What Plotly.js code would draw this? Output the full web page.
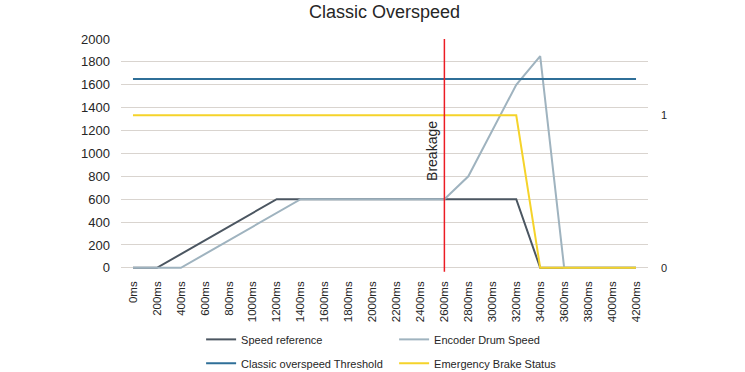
<!DOCTYPE html>
<html>
<head>
<meta charset="utf-8">
<script src="https://cdn.plot.ly/plotly-3.0.1.min.js"></script>
<style>html,body{margin:0;padding:0;background:#fff;}#chart{width:745px;height:372px;}</style>
</head>
<body>
<div id="chart"></div>
<script>
// Categories (time)
var timeLabels = ["0ms","200ms","400ms","600ms","800ms","1000ms","1200ms","1400ms","1600ms","1800ms","2000ms","2200ms","2400ms","2600ms","2800ms","3000ms","3200ms","3400ms","3600ms","3800ms","4000ms","4200ms"];

// Series values
var speedReference   = [0,0,120,240,360,480,600,600,600,600,600,600,600,600,600,600,600,0,0,0,0,0];
var encoderDrumSpeed = [0,0,0,120,240,360,480,600,600,600,600,600,600,600,800,1200,1600,1850,0,0,0,0];
var overspeedThreshold = [1650,1650,1650,1650,1650,1650,1650,1650,1650,1650,1650,1650,1650,1650,1650,1650,1650,1650,1650,1650,1650,1650];
var emergencyBrakeStatus = [1,1,1,1,1,1,1,1,1,1,1,1,1,1,1,1,1,0,0,0,0,0];

var breakageTime = "2600ms";
var breakageLabel = "Breakage";

var txt = '#262626';
var gridCol = '#d9d4cf';
var fontFam = 'Liberation Sans, Arial, sans-serif';

var traces = [
  {x: timeLabels, y: speedReference, name: 'Speed reference', type: 'scatter', mode: 'lines',
   line: {color: '#4b5661', width: 2}, legend: 'legend'},
  {x: timeLabels, y: encoderDrumSpeed, name: 'Encoder Drum Speed', type: 'scatter', mode: 'lines',
   line: {color: '#9fb3bf', width: 2}, legend: 'legend'},
  {x: timeLabels, y: overspeedThreshold, name: 'Classic overspeed Threshold', type: 'scatter', mode: 'lines',
   line: {color: '#2f6f98', width: 2}, legend: 'legend2'},
  {x: timeLabels, y: emergencyBrakeStatus, name: 'Emergency Brake Status', type: 'scatter', mode: 'lines',
   yaxis: 'y2', line: {color: '#f5d32a', width: 2}, legend: 'legend2'}
];

var legendCommon = {
  orientation: 'h', xref: 'paper', yref: 'paper', xanchor: 'left', yanchor: 'middle',
  entrywidth: 148, entrywidthmode: 'pixels', bgcolor: 'rgba(0,0,0,0)',
  font: {family: fontFam, size: 11, color: txt}, itemclick: false
};

var layout = {
  width: 745, height: 372,
  margin: {l: 121, r: 97, t: 39, b: 103, autoexpand: false},
  paper_bgcolor: '#fff', plot_bgcolor: '#fff',
  font: {family: fontFam, color: txt},
  title: {text: 'Classic Overspeed', font: {family: fontFam, size: 18, color: txt},
          x: 0.5, xref: 'paper', y: 0.968, yref: 'container', yanchor: 'middle'},
  xaxis: {
    type: 'category', categoryorder: 'array', categoryarray: timeLabels,
    range: [-0.5, timeLabels.length - 0.5], automargin: false,
    tickangle: -90, ticks: '', showgrid: false, zeroline: false,
    showline: false, tickfont: {family: fontFam, size: 11.5, color: txt},
    ticklabelstandoff: 9, fixedrange: true
  },
  yaxis: {
    range: [-10, 2000], dtick: 200, tick0: 0, ticks: '', automargin: false,
    showgrid: true, gridcolor: gridCol, gridwidth: 1, zeroline: false,
    showline: false, tickfont: {family: fontFam, size: 13, color: txt}, ticklabelstandoff: 10, fixedrange: true
  },
  yaxis2: {
    overlaying: 'y', side: 'right', range: [-0.0075, 1.5], tickvals: [0, 1], ticktext: ['0', '1'], automargin: false,
    showgrid: false, zeroline: false, showline: false, ticks: '',
    tickfont: {family: fontFam, size: 11, color: txt}, ticklabelstandoff: 12, fixedrange: true
  },
  legend: Object.assign({x: 0.152, y: -0.306}, legendCommon),
  legend2: Object.assign({x: 0.152, y: -0.41}, legendCommon),
  shapes: [{
    type: 'line', xref: 'x', yref: 'paper',
    x0: timeLabels.indexOf(breakageTime), x1: timeLabels.indexOf(breakageTime),
    y0: -0.012, y1: 1, line: {color: '#ec1c24', width: 1.5}
  }],
  annotations: [{
    text: breakageLabel, xref: 'x', yref: 'paper', x: timeLabels.indexOf(breakageTime), y: 0.515,
    xanchor: 'right', yanchor: 'middle', textangle: -90, showarrow: false, xshift: -3,
    font: {family: fontFam, size: 14, color: txt}
  }]
};

Plotly.newPlot('chart', traces, layout, {displayModeBar: false, staticPlot: true});
</script>
</body>
</html>
